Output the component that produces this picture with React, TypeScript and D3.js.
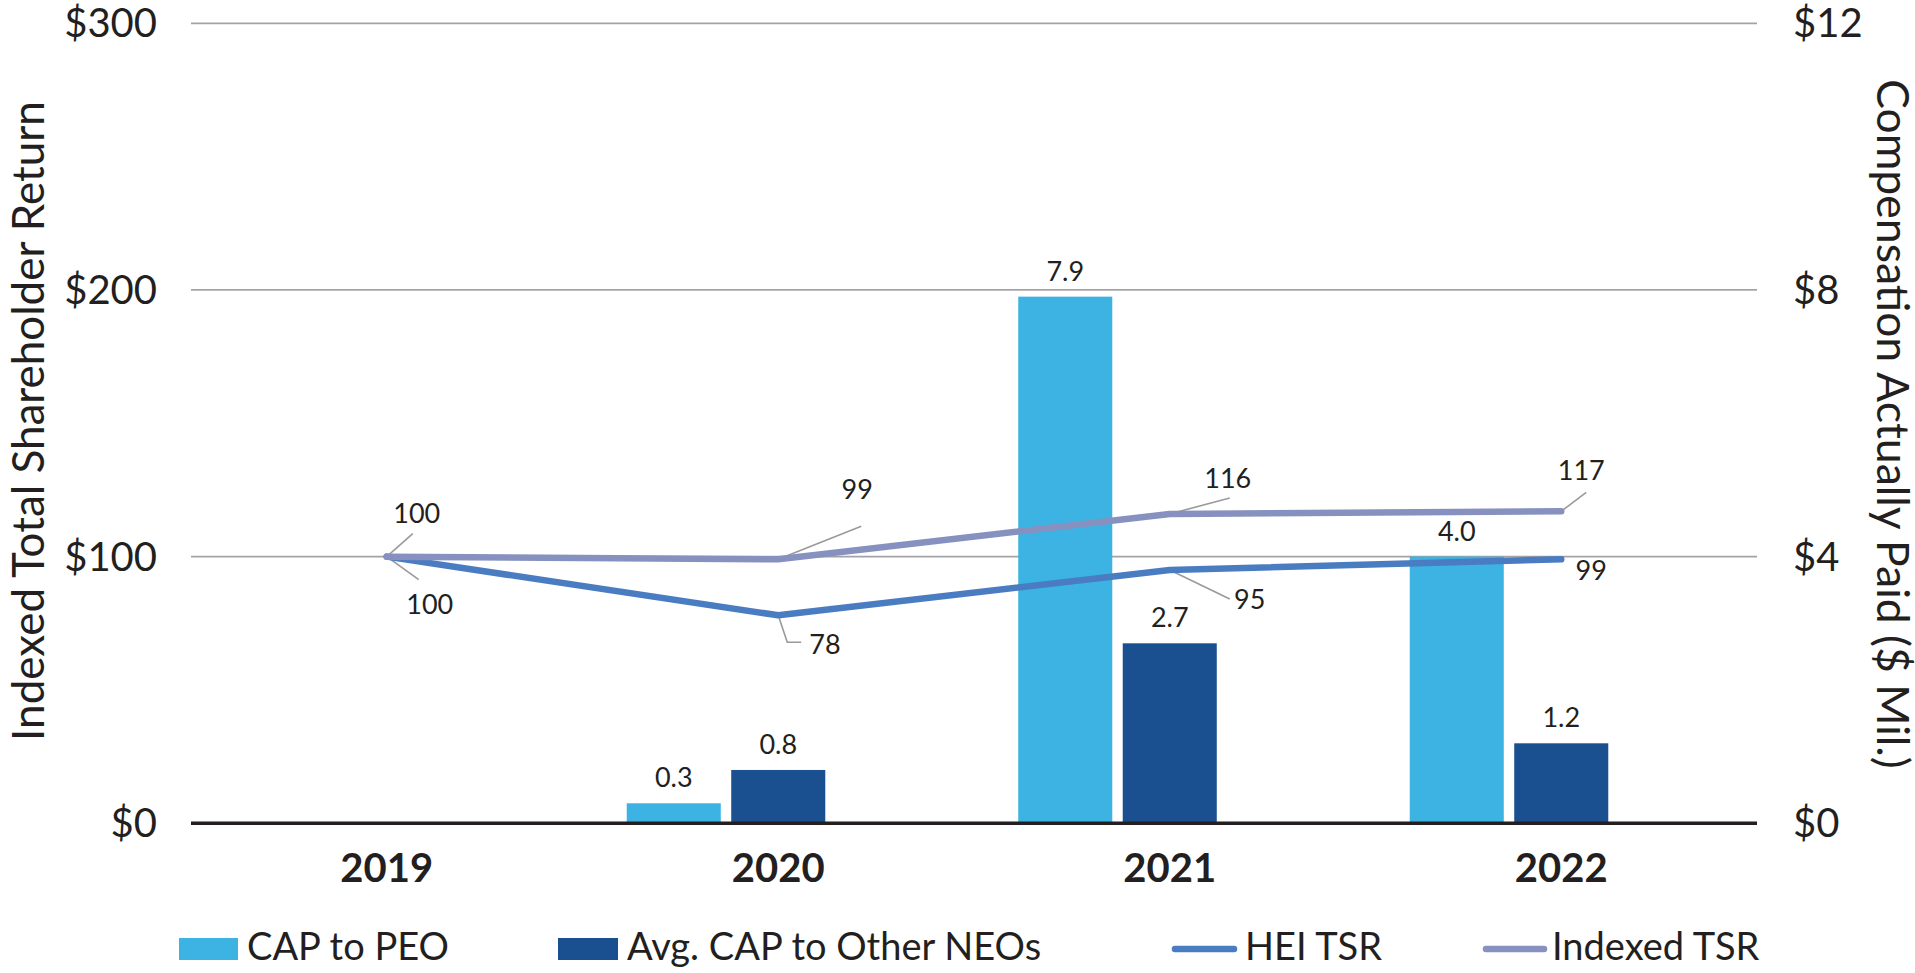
import React from "react";
import * as d3 from "d3";

const categories = ["2019", "2020", "2021", "2022"];
const capToPeo: (number | null)[] = [null, 0.3, 7.9, 4.0];
const avgCapOtherNeos: (number | null)[] = [null, 0.8, 2.7, 1.2];
const heiTsr = [100, 78, 95, 99];
const indexedTsr = [100, 99, 116, 117];
const leftTicks = [0, 100, 200, 300];
const rightTicks = [0, 4, 8, 12];
const barSlots = ["CAP to PEO", "Avg. CAP to Other NEOs", "reserved"];

const W = 1915;
const H = 973;
const FONT = "Lato, 'Open Sans', sans-serif";
const TEXT = "#231f20";
const C_PEO = "#3cb3e3";
const C_AVG = "#1a5090";
const C_HEI = "#4a7cc2";
const C_IDX = "#8791bf";
const C_GRID = "#a3a3a6";
const C_LEAD = "#9a9a9a";

// annotation offsets relative to point: leader polyline points, text pos, anchor
const idxAnn = [
  { lead: [[26, -23]], t: [30, -34], a: "middle" },
  { lead: [[83, -33]], t: [79, -60], a: "middle" },
  { lead: [[60, -16]], t: [58, -26], a: "middle" },
  { lead: [[25, -19]], t: [20, -31], a: "middle" },
];
const heiAnn = [
  { lead: [[32, 23]], t: [43, 57], a: "middle" },
  { lead: [[9, 27], [23, 27]], t: [31, 39], a: "start" },
  { lead: [[60, 29]], t: [80, 39], a: "middle" },
  { lead: [], t: [30, 21], a: "middle" },
];

export default function App() {
  const x0 = d3
    .scaleBand<string>()
    .domain(categories)
    .range([191, 1757])
    .paddingInner(0.226)
    .paddingOuter(0.113);
  const x1 = d3
    .scaleBand<string>()
    .domain(barSlots)
    .range([0, x0.bandwidth()])
    .paddingInner(0.1);
  const yL = d3.scaleLinear().domain([0, 300]).range([823.3, 23.3]);
  const yR = d3.scaleLinear().domain([0, 12]).range([823.3, 23.3]);
  const cx = (c: string) => (x0(c) as number) + x0.bandwidth() / 2;

  const line = d3
    .line<number>()
    .x((_, i) => cx(categories[i]))
    .y((d) => yL(d));

  const barSeries = [
    { key: barSlots[0], vals: capToPeo, color: C_PEO },
    { key: barSlots[1], vals: avgCapOtherNeos, color: C_AVG },
  ];

  const renderAnn = (vals: number[], anns: any[], prefix: string) =>
    vals.map((v, i) => {
      const px = cx(categories[i]);
      const py = yL(v);
      const a = anns[i];
      const pts = [[px, py], ...a.lead.map((p: number[]) => [px + p[0], py + p[1]])];
      return (
        <g key={prefix + i}>
          {a.lead.length > 0 && (
            <polyline
              points={pts.map((p) => p.join(",")).join(" ")}
              fill="none"
              stroke={C_LEAD}
              strokeWidth={1.6}
            />
          )}
          <text
            x={px + a.t[0]}
            y={py + a.t[1]}
            textAnchor={a.a}
            fontSize={27}
            fill={TEXT}
          >
            {v}
          </text>
        </g>
      );
    });

  return (
    <svg
      width={W}
      height={H}
      style={{ position: "absolute", left: 0, top: 0, display: "block", background: "#fff" }}
      fontFamily={FONT}
    >
      {/* gridlines */}
      {leftTicks
        .filter((t) => t > 0)
        .map((t) => (
          <line key={"g" + t} x1={191} x2={1757} y1={yL(t)} y2={yL(t)} stroke={C_GRID} strokeWidth={1.8} />
        ))}
      {/* left ticks */}
      {leftTicks.map((t) => (
        <text key={"l" + t} x={157} y={yL(t) + 14} textAnchor="end" fontSize={40} fill={TEXT}>
          {"$" + t}
        </text>
      ))}
      {/* right ticks */}
      {rightTicks.map((t) => (
        <text key={"r" + t} x={1793} y={yR(t) + 14} textAnchor="start" fontSize={40} fill={TEXT}>
          {"$" + t}
        </text>
      ))}
      {/* axis titles */}
      <text
        transform={`translate(44, 421) rotate(-90)`}
        textAnchor="middle"
        fontSize={44}
        fill={TEXT}
      >
        Indexed Total Shareholder Return
      </text>
      <text
        transform={`translate(1877, 424) rotate(90)`}
        textAnchor="middle"
        fontSize={44.5}
        fill={TEXT}
      >
        Compensation Actually Paid ($ Mil.)
      </text>
      {/* bars */}
      {barSeries.map((s) =>
        s.vals.map((v, i) =>
          v == null ? null : (
            <g key={s.key + i}>
              <rect
                x={(x0(categories[i]) as number) + (x1(s.key) as number)}
                y={yR(v)}
                width={x1.bandwidth()}
                height={yR(0) - yR(v)}
                fill={s.color}
              />
              <text
                x={(x0(categories[i]) as number) + (x1(s.key) as number) + x1.bandwidth() / 2}
                y={yR(v) - 16}
                textAnchor="middle"
                fontSize={27}
                fill={TEXT}
              >
                {v.toFixed(1)}
              </text>
            </g>
          )
        )
      )}
      {/* zero axis */}
      <line x1={191} x2={1757} y1={yL(0)} y2={yL(0)} stroke={TEXT} strokeWidth={3.5} />
      {/* category labels */}
      {categories.map((c) => (
        <text key={c} x={cx(c)} y={882} textAnchor="middle" fontSize={40} fontWeight={700} fill={TEXT}>
          {c}
        </text>
      ))}
      {/* leaders & labels */}
      {renderAnn(indexedTsr, idxAnn, "ia")}
      {renderAnn(heiTsr, heiAnn, "ha")}
      {/* lines */}
      <path d={line(heiTsr) || ""} fill="none" stroke={C_HEI} strokeWidth={6.5} strokeLinecap="round" strokeLinejoin="round" />
      <path d={line(indexedTsr) || ""} fill="none" stroke={C_IDX} strokeWidth={6.5} strokeLinecap="round" strokeLinejoin="round" />
      {/* legend */}
      <g fontSize={38} fill={TEXT}>
        <rect x={179} y={938} width={59} height={22} fill={C_PEO} />
        <text x={247} y={960}>CAP to PEO</text>
        <rect x={558} y={938} width={60} height={22} fill={C_AVG} />
        <text x={627} y={960}>Avg. CAP to Other NEOs</text>
        <line x1={1175} x2={1234} y1={949} y2={949} stroke={C_HEI} strokeWidth={6.5} strokeLinecap="round" />
        <text x={1245} y={960}>HEI TSR</text>
        <line x1={1486} x2={1544} y1={949} y2={949} stroke={C_IDX} strokeWidth={6.5} strokeLinecap="round" />
        <text x={1552} y={960}>Indexed TSR</text>
      </g>
    </svg>
  );
}
